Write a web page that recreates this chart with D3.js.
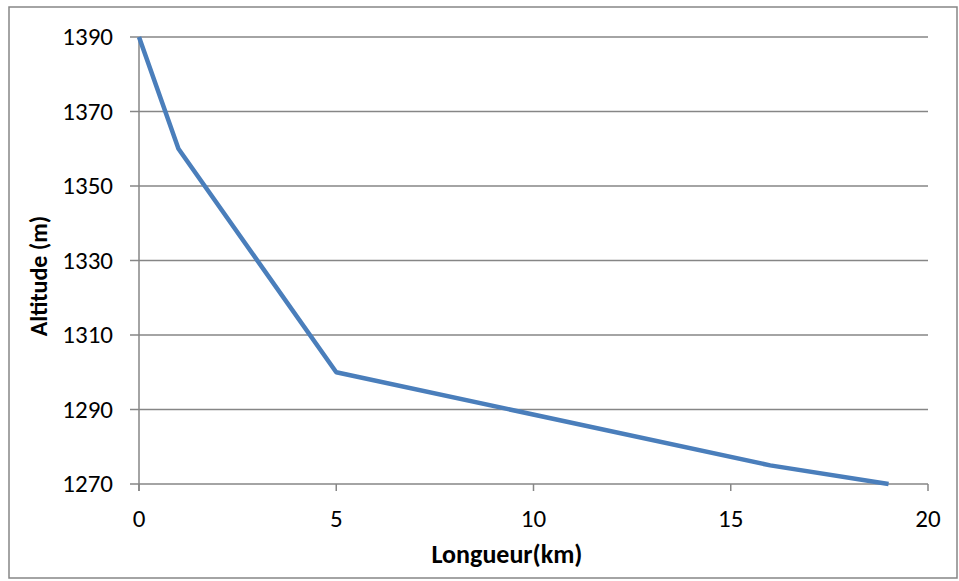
<!DOCTYPE html>
<html>

<head>
  <title>Altitude</title>
  <script src="https://cdn.jsdelivr.net/npm/d3@7"></script>
  <style>
    body { margin: 0; background: #fff; }
    text { font-family: Carlito, Calibri, "Open Sans", sans-serif; }
  </style>
</head>

<body>
  <svg width="959" height="581" id="mainsvg"></svg>
  <script>
    const longueur = [0, 1, 5, 16, 19];
    const altitude = [1390, 1360, 1300, 1275, 1270];
    const xTicks = [0, 5, 10, 15, 20];
    const yTicks = [1270, 1290, 1310, 1330, 1350, 1370, 1390];

    const svg = d3.select('#mainsvg');
    const margin = { left: 139, right: 31, top: 37, bottom: 97 };
    const width = +svg.attr('width');
    const height = +svg.attr('height');

    // outer chart frame
    svg.append('rect')
      .attr('x', 9).attr('y', 7)
      .attr('width', 948).attr('height', 571)
      .attr('fill', 'white')
      .attr('stroke', '#868686')
      .attr('stroke-width', 1.5);

    const x = d3.scaleLinear().domain([0, 20]).range([margin.left, width - margin.right]);
    const y = d3.scaleLinear().domain([1270, 1390]).range([height - margin.bottom, margin.top]);

    // horizontal gridlines
    svg.append('g').selectAll('line').data(yTicks).join('line')
      .attr('x1', x(0) - 9).attr('x2', x(20))
      .attr('y1', d => y(d)).attr('y2', d => y(d))
      .attr('stroke', '#868686').attr('stroke-width', 1.5);

    // y axis line
    svg.append('line')
      .attr('x1', x(0)).attr('x2', x(0))
      .attr('y1', y(1390)).attr('y2', y(1270) + 7)
      .attr('stroke', '#868686').attr('stroke-width', 1.5);

    // x tick marks
    svg.append('g').selectAll('line').data(xTicks).join('line')
      .attr('x1', d => x(d)).attr('x2', d => x(d))
      .attr('y1', y(1270)).attr('y2', y(1270) + 7)
      .attr('stroke', '#868686').attr('stroke-width', 1.5);

    svg.append('g').selectAll('text').data(yTicks).join('text')
      .attr('x', 113).attr('y', d => y(d))
      .attr('dy', '0.33em')
      .attr('text-anchor', 'end')
      .attr('font-size', 25)
      .text(d => d);

    svg.append('g').selectAll('text').data(xTicks).join('text')
      .attr('x', d => x(d)).attr('y', y(1270) + 43)
      .attr('text-anchor', 'middle')
      .attr('font-size', 25)
      .text(d => d);

    svg.append('text')
      .attr('x', 507).attr('y', 563)
      .attr('text-anchor', 'middle')
      .attr('font-size', 26).attr('font-weight', 'bold')
      .text('Longueur(km)');

    svg.append('text')
      .attr('transform', 'translate(47, 276) rotate(-90)')
      .attr('text-anchor', 'middle')
      .attr('font-size', 24).attr('font-weight', 'bold')
      .text('Altitude (m)');

    const line = d3.line()
      .x((d, i) => x(longueur[i]))
      .y(d => y(d));

    svg.append('path')
      .datum(altitude)
      .attr('d', line)
      .attr('fill', 'none')
      .attr('stroke', '#4a7ebb')
      .attr('stroke-width', 4.5)
      .attr('stroke-linejoin', 'round');
  </script>
</body>

</html>
